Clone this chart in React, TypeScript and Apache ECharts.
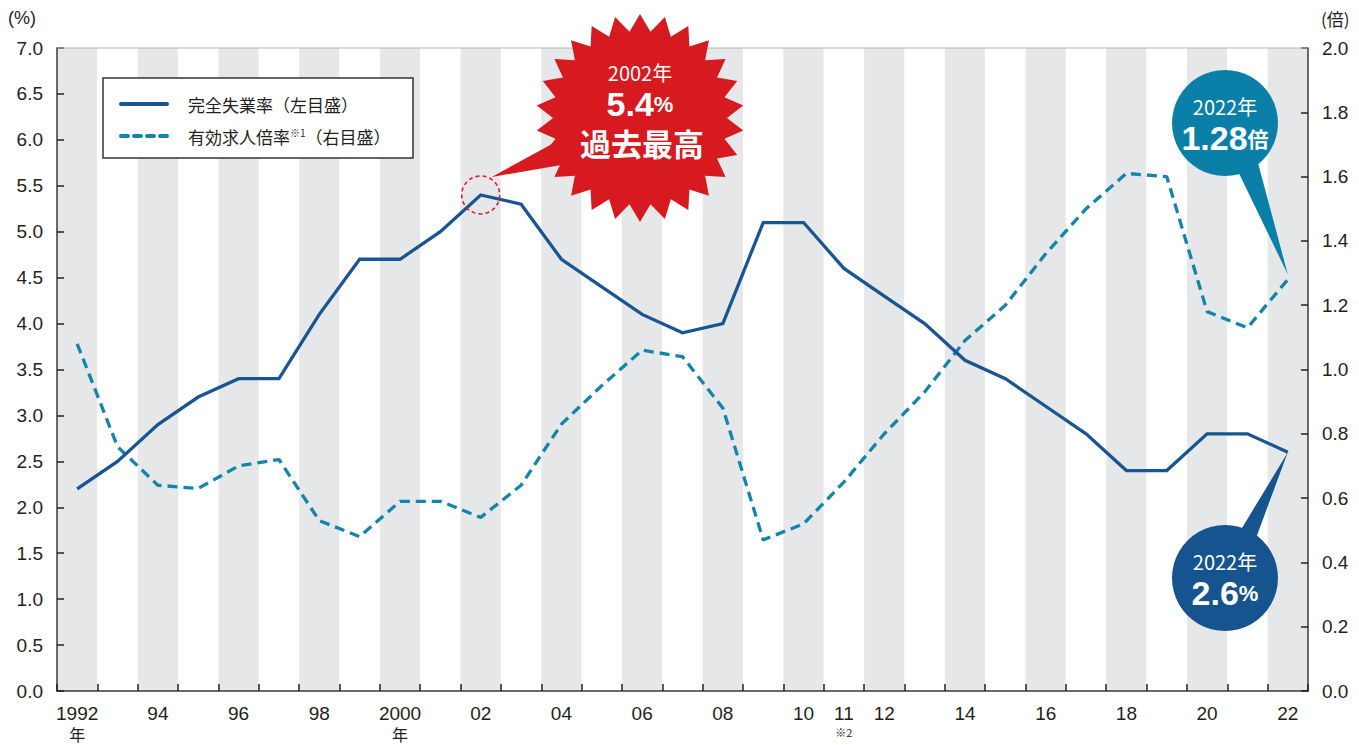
import React, { useEffect, useRef } from "react";
import * as echarts from "echarts";

const years = [
  "1992", "1993", "1994", "1995", "1996", "1997", "1998", "1999", "2000", "2001",
  "2002", "2003", "2004", "2005", "2006", "2007", "2008", "2009", "2010", "2011",
  "2012", "2013", "2014", "2015", "2016", "2017", "2018", "2019", "2020", "2021", "2022",
];

const xTickLabels = [
  "1992\n年", "", "94", "", "96", "", "98", "", "2000\n年", "",
  "02", "", "04", "", "06", "", "08", "", "10", "11\n※2",
  "12", "", "14", "", "16", "", "18", "", "20", "", "22",
];

const unemployment = [
  2.2, 2.5, 2.9, 3.2, 3.4, 3.4, 4.1, 4.7, 4.7, 5.0,
  5.4, 5.3, 4.7, 4.4, 4.1, 3.9, 4.0, 5.1, 5.1, 4.6,
  4.3, 4.0, 3.6, 3.4, 3.1, 2.8, 2.4, 2.4, 2.8, 2.8, 2.6,
];

const jobRatio = [
  1.08, 0.76, 0.64, 0.63, 0.70, 0.72, 0.53, 0.48, 0.59, 0.59,
  0.54, 0.64, 0.83, 0.95, 1.06, 1.04, 0.88, 0.47, 0.52, 0.65,
  0.80, 0.93, 1.09, 1.20, 1.36, 1.50, 1.61, 1.60, 1.18, 1.13, 1.28,
];

const seriesNames = ["完全失業率（左目盛）", "有効求人倍率※1（右目盛）"];

const NAVY = "#1a5593";
const TEAL = "#1484ad";
const BUBBLE_TEAL = "#0a80a8";
const BUBBLE_NAVY = "#16548f";
const RED = "#d71920";
const TXT = "#231f20";
const FONT = "'Liberation Sans', 'Noto Sans CJK JP', sans-serif";
const CJK = "'Noto Sans CJK JP', 'Liberation Sans', sans-serif";

export default function App() {
  const ref = useRef<HTMLDivElement>(null);

  useEffect(() => {
    const chart = echarts.init(ref.current!, null, { renderer: "svg" });
    const option: any = {
      animation: false,
      backgroundColor: "#ffffff",
      grid: { left: 57, right: 51, top: 48, bottom: 54, containLabel: false },
      xAxis: {
        type: "category",
        data: years,
        boundaryGap: true,
        axisLine: { lineStyle: { color: "#3a3a3a", width: 1.5 } },
        axisTick: { show: true, inside: true, length: 7, interval: 0, lineStyle: { color: "#222", width: 1.5 } },
        splitArea: { show: true, interval: 0, areaStyle: { color: ["#e6e7e8", "#ffffff"] } },
        axisLabel: {
          interval: 0,
          margin: 12,
          color: TXT,
          fontFamily: FONT,
          formatter: (_v: string, i: number) => {
            const lab = xTickLabels[i];
            if (!lab) return "";
            const parts = lab.split("\n");
            if (parts.length === 1) return `{y|${parts[0]}}`;
            if (parts[1] === "年") return `{y|${parts[0]}}\n{n|${parts[1]}}`;
            return `{y|${parts[0]}}\n{s|${parts[1]}}`;
          },
          rich: {
            y: { fontSize: 19, lineHeight: 21, color: TXT, fontFamily: FONT },
            n: { fontSize: 16, lineHeight: 19, color: TXT, fontFamily: CJK },
            s: { fontSize: 11, lineHeight: 16, color: TXT, fontFamily: CJK },
          },
        },
      },
      yAxis: [
        {
          type: "value",
          min: 0,
          max: 7,
          interval: 0.5,
          position: "left",
          axisLine: { show: true, lineStyle: { color: "#3a3a3a", width: 1.5 } },
          axisTick: { show: true, inside: true, length: 7, lineStyle: { color: "#222", width: 1.5 } },
          splitLine: { show: false },
          axisLabel: { margin: 14, fontSize: 19, color: TXT, fontFamily: FONT, formatter: (v: number) => v.toFixed(1) },
        },
        {
          type: "value",
          min: 0,
          max: 2,
          interval: 0.2,
          position: "right",
          axisLine: { show: true, lineStyle: { color: "#3a3a3a", width: 1.5 } },
          axisTick: { show: true, inside: true, length: 7, lineStyle: { color: "#222", width: 1.5 } },
          splitLine: { show: false },
          axisLabel: { margin: 14, fontSize: 19, color: TXT, fontFamily: FONT, formatter: (v: number) => v.toFixed(1) },
        },
      ],
      series: [
        {
          name: seriesNames[0],
          type: "line",
          yAxisIndex: 0,
          data: unemployment,
          symbol: "none",
          lineStyle: { color: NAVY, width: 3.3, join: "miter" },
          z: 3,
        },
        {
          name: seriesNames[1],
          type: "line",
          yAxisIndex: 1,
          data: jobRatio,
          symbol: "none",
          lineStyle: { color: TEAL, width: 3.3, type: [10, 6] },
          z: 2,
        },
      ],
    };
    chart.setOption(option);

    const peakIdx = unemployment.indexOf(Math.max(...unemployment));
    const last = years.length - 1;
    const pPeak = chart.convertToPixel({ xAxisIndex: 0, yAxisIndex: 0 }, [peakIdx, unemployment[peakIdx]]) as number[];
    const pU = chart.convertToPixel({ xAxisIndex: 0, yAxisIndex: 0 }, [last, unemployment[last]]) as number[];
    const pJ = chart.convertToPixel({ xAxisIndex: 0, yAxisIndex: 1 }, [last, jobRatio[last]]) as number[];

    // starburst
    const cx = 640, cy = 118, R = 104, r0 = 87, n = 26;
    const star: number[][] = [];
    for (let i = 0; i < 2 * n; i++) {
      const a = -Math.PI / 2 + (i * Math.PI) / n;
      const rr = i % 2 === 0 ? R : r0;
      star.push([cx + rr * Math.cos(a), cy + rr * Math.sin(a)]);
    }

    const tc = { x: 1225, y: 123, r: 53 };
    const nc = { x: 1225, y: 578, r: 53 };

    const white = (x: number, y: number, text: string, rich: any) => ({
      type: "text", x, y, z: 62,
      style: { text, align: "center", verticalAlign: "middle", rich },
    });

    const graphic: any[] = [
      // top border
      { type: "line", shape: { x1: 57, y1: 48, x2: 1308, y2: 48 }, style: { stroke: "#b5b5b5", lineWidth: 1.2 }, z: 50 },
      // axis unit texts
      { type: "text", x: 8, y: 18, style: { text: "(%)", fill: TXT, font: `18px ${FONT}`, verticalAlign: "middle" }, z: 50 },
      { type: "text", x: 1321, y: 18, style: { text: "(倍)", fill: TXT, font: `17px ${CJK}`, verticalAlign: "middle" }, z: 50 },
      // legend
      { type: "rect", shape: { x: 103, y: 78, width: 310, height: 80 }, style: { fill: "#ffffff", stroke: "#333", lineWidth: 1.5 }, z: 50 },
      { type: "line", shape: { x1: 121, y1: 104, x2: 167, y2: 104 }, style: { stroke: NAVY, lineWidth: 4, lineCap: "round" }, z: 51 },
      { type: "line", shape: { x1: 121, y1: 136, x2: 167, y2: 136 }, style: { stroke: TEAL, lineWidth: 4, lineCap: "round", lineDash: [7, 6] }, z: 51 },
      { type: "text", x: 188, y: 104, style: { text: seriesNames[0], fill: TXT, font: `17px ${CJK}`, verticalAlign: "middle" }, z: 51 },
      {
        type: "text", x: 188, y: 136, z: 51,
        style: {
          text: "{n|有効求人倍率}{s|※1}{n|（右目盛）}",
          verticalAlign: "middle",
          rich: {
            n: { fill: TXT, fontSize: 17, fontFamily: CJK },
            s: { fill: TXT, fontSize: 10, fontFamily: CJK, verticalAlign: "top", lineHeight: 14, padding: [0, 0, 8, 0] },
          },
        },
      },
      // peak annotation
      { type: "circle", shape: { cx: pPeak[0], cy: pPeak[1], r: 19 }, style: { fill: "none", stroke: RED, lineWidth: 1.5, lineDash: [4, 3] }, z: 60 },
      { type: "polygon", shape: { points: [[pPeak[0] + 11, pPeak[1] - 18], [585, 126], [590, 160]] }, style: { fill: RED }, z: 60 },
      { type: "polygon", shape: { points: star }, style: { fill: RED }, z: 61 },
      white(cx, 72, "{a|2002年}", { a: { fill: "#fff", fontSize: 20, lineHeight: 24, fontFamily: CJK } }),
      white(cx, 104, "{b|5.4}{c|%}", {
        b: { fill: "#fff", fontSize: 34, lineHeight: 30, fontWeight: "bold", fontFamily: FONT },
        c: { fill: "#fff", fontSize: 22, lineHeight: 30, fontWeight: "bold", fontFamily: FONT },
      }),
      white(cx + 2, 145, "{d|過去最高}", { d: { fill: "#fff", fontSize: 31, lineHeight: 32, fontWeight: "bold", fontFamily: FONT } }),
      // teal bubble
      { type: "polygon", shape: { points: [[1234, tc.y + 40], [1258, tc.y + 40], [pJ[0], pJ[1] - 5]] }, style: { fill: BUBBLE_TEAL }, z: 60 },
      { type: "circle", shape: { cx: tc.x, cy: tc.y, r: tc.r }, style: { fill: BUBBLE_TEAL }, z: 60 },
      white(tc.x, 106, "{a|2022年}", { a: { fill: "#fff", fontSize: 20, lineHeight: 24, fontFamily: CJK } }),
      white(tc.x, 138, "{b|1.28}{c|倍}", {
        b: { fill: "#fff", fontSize: 34, lineHeight: 30, fontWeight: "bold", fontFamily: FONT },
        c: { fill: "#fff", fontSize: 21, lineHeight: 30, fontWeight: "bold", fontFamily: CJK },
      }),
      // navy bubble
      { type: "polygon", shape: { points: [[1236, nc.y - 40], [1256, nc.y - 40], [pU[0], pU[1]]] }, style: { fill: BUBBLE_NAVY }, z: 60 },
      { type: "circle", shape: { cx: nc.x, cy: nc.y, r: nc.r }, style: { fill: BUBBLE_NAVY }, z: 60 },
      white(nc.x, 561, "{a|2022年}", { a: { fill: "#fff", fontSize: 20, lineHeight: 24, fontFamily: CJK } }),
      white(nc.x, 593, "{b|2.6}{c|%}", {
        b: { fill: "#fff", fontSize: 34, lineHeight: 30, fontWeight: "bold", fontFamily: FONT },
        c: { fill: "#fff", fontSize: 22, lineHeight: 30, fontWeight: "bold", fontFamily: FONT },
      }),
    ];
    chart.setOption({ graphic });

    return () => chart.dispose();
  }, []);

  return (
    <div
      ref={ref}
      style={{ position: "fixed", left: 0, top: 0, width: 1359, height: 745, background: "#fff" }}
    />
  );
}
